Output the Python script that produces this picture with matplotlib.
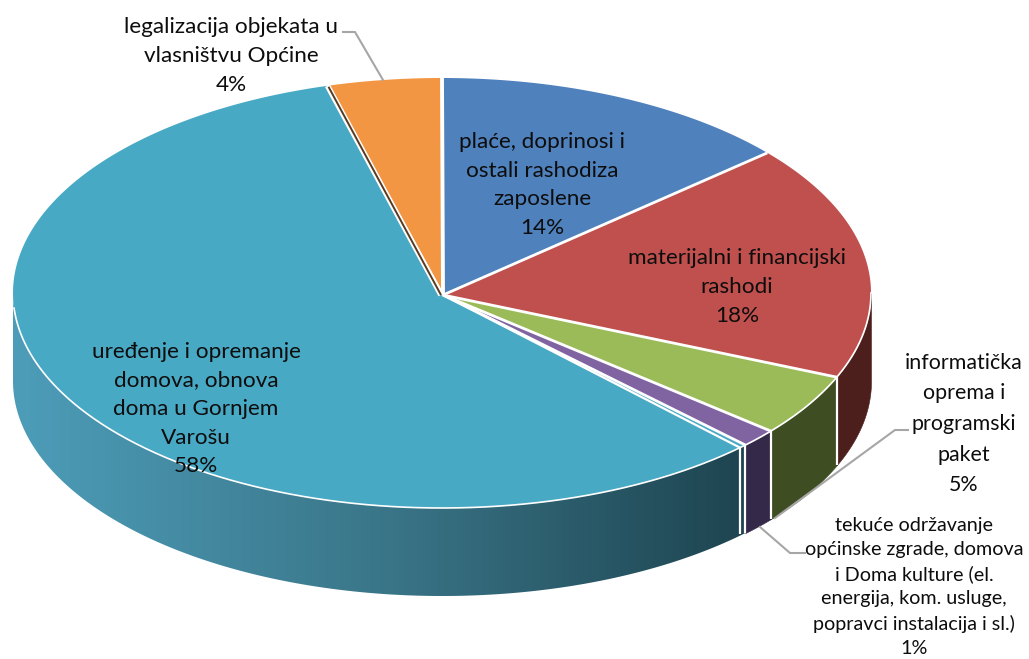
import numpy as np
import matplotlib
matplotlib.use("Agg")
import matplotlib.pyplot as plt
from matplotlib.collections import PolyCollection
from matplotlib.colors import LinearSegmentedColormap
from matplotlib.patches import Polygon

# slice shares, clockwise from 12 o'clock
values = [13.7, 17.7, 4.7, 1.4, 58.2, 4.3]
percents = ["14%", "18%", "5%", "1%", "58%", "4%"]
names = [
    "plaće, doprinosi i\nostali rashodiza\nzaposlene",
    "materijalni i financijski\nrashodi",
    "informatička\noprema i\nprogramski\npaket",
    "tekuće održavanje\nopćinske zgrade, domova\ni Doma kulture (el.\nenergija, kom. usluge,\npopravci instalacija i sl.)",
    "uređenje i opremanje\ndomova, obnova\ndoma u Gornjem\nVarošu",
    "legalizacija objekata u\nvlasništvu Općine",
]
top_colors = ["#4f81bd", "#c0504d", "#9bbb59", "#8064a2", "#48a9c5", "#f39644"]
side_colors = ["#2f4d71", "#4d1f1c", "#3f4d22", "#35294a", None, "#94561f"]

cx, cy = 442, 293
a, b = 429, 215
depth = 88

plt.rcParams["font.family"] = ["Lato", "DejaVu Sans"]
fig = plt.figure(figsize=(10.29, 6.59), dpi=100)
ax = fig.add_axes([0, 0, 1, 1])
ax.axis("off")

teal_side = LinearSegmentedColormap.from_list("teal_side", ["#4d9db9", "#3a7689", "#1e4450"])


def rim(t):
    t = np.radians(t)
    return cx + a * np.sin(t), cy - b * np.cos(t)


edges = np.concatenate([[0], np.cumsum(values)]) / sum(values) * 360

# side wall, only the front half of the rim shows
for i in range(len(values)):
    t0, t1 = max(edges[i], 90), min(edges[i + 1], 270)
    if t1 <= t0:
        continue
    ts = np.linspace(t0, t1, 300)
    xs, ys = rim(ts)
    outline = np.c_[np.r_[xs, xs[::-1]], np.r_[ys, ys[::-1] + depth]]
    if side_colors[i] is None:
        patch = Polygon(outline, closed=True, fc="none", ec="none", transform=ax.transData)
        ax.add_patch(patch)
        shade = np.linspace(0, 1, 256).reshape(1, -1)
        im = ax.imshow(shade, cmap=teal_side, aspect="auto", extent=(xs.min(), xs.max(), 659, 0), zorder=1)
        im.set_clip_path(patch)
    else:
        ax.add_collection(PolyCollection([outline], facecolors=side_colors[i], edgecolors=side_colors[i],
                                         linewidths=0.4, zorder=1))

ax.set_xlim(0, 1029)
ax.set_ylim(659, 0)

# top face
for i in range(len(values)):
    ts = np.linspace(edges[i], edges[i + 1], 200)
    xs, ys = rim(ts)
    ax.fill(np.r_[cx, xs], np.r_[cy + 2, ys], color=top_colors[i], lw=0, zorder=2)

# white rim between top and side
ts = np.linspace(90, 266, 400)
xs, ys = rim(ts)
ax.plot(xs, ys, color="white", lw=1.2, zorder=3)

# white gaps along the slice edges
for i, t in enumerate(edges[:-1]):
    x, y = rim(t)
    ax.plot([cx + 1, x], [cy + 2, y], color="white", lw=2.8 if i == 0 else 2.0, solid_capstyle="butt", zorder=3)
    if 90 < t < 270:
        ax.plot([x, x], [y, y + depth], color="white", lw=1.6, solid_capstyle="butt", zorder=3)

# the purple slice's sliver next to the teal one
t = edges[4] + 1.0
x, y = rim(t)
ax.plot([cx + 1, x], [cy + 2, y], color="white", lw=1.6, solid_capstyle="butt", zorder=3)
ax.plot([x, x], [y, y + depth - 2], color="white", lw=1.6, solid_capstyle="butt", zorder=3)

# brown sliver between teal and orange
t = edges[5]
x, y = rim(t)
ax.plot([cx - 1, x], [cy + 2, y], color="white", lw=4.0, solid_capstyle="butt", zorder=3)
ax.plot([cx - 1, x + 1], [cy + 2, y + 1], color="#5b3a20", lw=1.4, solid_capstyle="butt", zorder=3)

# leader lines
lead_x = [[343, 355, 383], [908, 895, 775], [760, 790, 805]]
lead_y = [[32, 32, 80], [430, 430, 518], [527, 553, 553]]
for lx, ly in zip(lead_x, lead_y):
    ax.plot(lx, ly, color="#a6a6a6", lw=1.5, zorder=4)

label_x = [542, 737, 964, 914, 196, 231]
label_y = [185, 287, 424, 587, 409, 56]
label_size = [16.2, 16.2, 15.4, 14.2, 16.2, 16.2]
label_spacing = [1.54, 1.54, 1.66, 1.5, 1.54, 1.54]
for i in range(len(values)):
    ax.text(label_x[i], label_y[i], names[i] + "\n" + percents[i], ha="center", va="center",
            fontsize=label_size[i], linespacing=label_spacing[i], color="#0d0d0d", zorder=5)

fig.savefig("out.png", dpi=100)
